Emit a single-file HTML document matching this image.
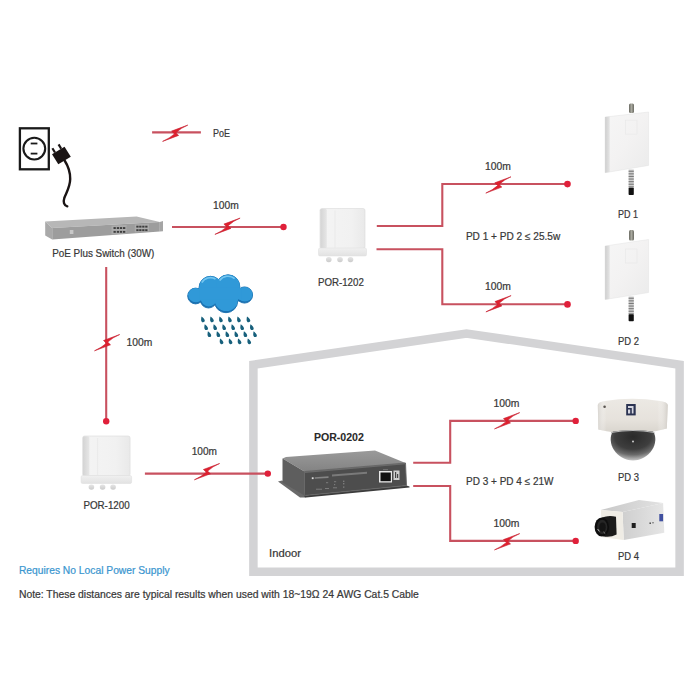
<!DOCTYPE html>
<html><head><meta charset="utf-8">
<style>
html,body{margin:0;padding:0;background:#fff;}
svg{display:block;}
text{font-family:"Liberation Sans",sans-serif;font-size:10.6px;fill:#383838;stroke:#383838;stroke-width:0.22px;}
</style></head>
<body>
<svg width="700" height="700" viewBox="0 0 700 700">
<defs>
<path id="bolt" d="M-12.6,7.8 L3.4,1.8 L0.6,-0.9 Q5.6,-5.6 12.6,-8.5 L-3.6,-2.5 L-0.7,0.3 Q-5.5,4.6 -12.6,7.8 Z" fill="#e0202e" stroke="#c41c2e" stroke-width="0.6" stroke-linejoin="round"/>
<path id="drop" d="M0,0 C1.2,1 3.3,2.6 3.3,4.1 C3.3,5.3 2.4,5.9 1.4,5.8 C0.3,5.7 -0.4,4.6 -0.4,3.4 C-0.4,2.2 -0.2,1 0,0Z" fill="#17607c"/>
</defs>

<!-- House outline -->
<polygon points="253.4,364.7 466.5,333.5 679.6,364.7 679.6,571.7 253.4,571.7" fill="none" stroke="#d3d3d5" stroke-width="8.5" stroke-linejoin="miter"/>

<!-- Outlet -->
<rect x="19.9" y="128.3" width="28.9" height="41" fill="none" stroke="#1a1a1a" stroke-width="2.3"/>
<circle cx="34.3" cy="148.6" r="10.9" fill="none" stroke="#1a1a1a" stroke-width="2.1"/>
<line x1="30.7" y1="143.5" x2="37.4" y2="143.5" stroke="#1a1a1a" stroke-width="1.8"/>
<line x1="30.7" y1="153.6" x2="37.4" y2="153.6" stroke="#1a1a1a" stroke-width="1.8"/>
<!-- Plug -->
<polygon points="52,154.2 64.5,146.7 70.8,156.8 58.3,164.3" fill="#1a1414"/>
<line x1="55" y1="152.5" x2="52.4" y2="148.2" stroke="#1a1414" stroke-width="2.2"/>
<line x1="61.2" y1="148.8" x2="58.6" y2="144.4" stroke="#1a1414" stroke-width="2.2"/>
<path d="M64.6,160.5 C67.8,165.5 70.3,171.5 70.2,179 C70.1,187 66.2,192.8 64.3,198 C63,202 64,205.4 67.3,206.3" fill="none" stroke="#1a1414" stroke-width="2.4" stroke-linecap="round"/>

<!-- Switch -->
<g>
<polygon points="45.2,221.5 136.6,216.4 159.8,221.9 52.2,228" fill="#b7b7b7"/>
<polygon points="52.2,228 159.8,221.9 159.8,231.6 52.2,239.6" fill="#9d9d9d"/>
<polygon points="45.2,221.5 52.2,228 52.2,239.6 45.2,235.5" fill="#a9a9a9"/>
<polygon points="159.8,221.9 163,221 163,231.3 159.8,231.6" fill="#a5a5a5"/>
<polygon points="111.5,225.8 126.5,225 126.5,233.6 111.5,234.6" fill="#acacac"/>
<polygon points="134.8,224.5 149,223.7 149,231.6 134.8,232.4" fill="#acacac"/>
<rect x="69.8" y="230" width="3.6" height="4" fill="#c8c8c8"/>
<g fill="#3d3d3d"><rect x="113.5" y="227.1" width="2.3" height="1.9"/><rect x="113.5" y="230.9" width="2.3" height="1.9"/><rect x="116.8" y="227.1" width="2.3" height="1.9"/><rect x="116.8" y="230.9" width="2.3" height="1.9"/><rect x="119.9" y="227.1" width="2.3" height="1.9"/><rect x="119.9" y="230.9" width="2.3" height="1.9"/><rect x="123.0" y="227.1" width="2.3" height="1.9"/><rect x="123.0" y="230.9" width="2.3" height="1.9"/><rect x="136.3" y="225.7" width="2.3" height="1.9"/><rect x="136.3" y="229.2" width="2.3" height="1.9"/><rect x="139.2" y="225.7" width="2.3" height="1.9"/><rect x="139.2" y="229.2" width="2.3" height="1.9"/><rect x="142.2" y="225.7" width="2.3" height="1.9"/><rect x="142.2" y="229.2" width="2.3" height="1.9"/><rect x="145.2" y="225.7" width="2.3" height="1.9"/><rect x="145.2" y="229.2" width="2.3" height="1.9"/></g>
</g>

<!-- Red lines -->
<g stroke="#c8515f" stroke-width="2.1" fill="none">
<line x1="152.1" y1="132.4" x2="200.9" y2="132.4"/>
<line x1="172" y1="227" x2="283.5" y2="227"/>
<line x1="106.2" y1="267" x2="106.2" y2="421.2"/>
<polyline points="376.8,226 442.3,226 442.3,184 567.4,184"/>
<polyline points="376.5,249.2 442.3,249.2 442.3,304.3 567.4,304.3"/>
<line x1="144.9" y1="473.6" x2="267.8" y2="473.6"/>
<polyline points="413.2,462.7 450.2,462.7 450.2,420.9 575.7,420.9"/>
<polyline points="413.2,486 450.2,486 450.2,540.9 575.7,540.9"/>
</g>
<g fill="#e0203a">
<circle cx="283.5" cy="227" r="3.2"/>
<circle cx="567.5" cy="184.1" r="3.3"/>
<circle cx="567.5" cy="304.4" r="3.3"/>
<circle cx="106.2" cy="421.2" r="3.2"/>
<circle cx="267.8" cy="473.6" r="3.2"/>
<circle cx="575.7" cy="420.9" r="3.2"/>
<circle cx="575.7" cy="540.9" r="3.2"/>
</g>
<use href="#bolt" x="175.2" y="133.6"/>
<use href="#bolt" x="227.5" y="226.6"/>
<use href="#bolt" x="107.1" y="343"/>
<use href="#bolt" x="498.4" y="185.3"/>
<use href="#bolt" x="498.5" y="304.1"/>
<use href="#bolt" x="207" y="472"/>
<use href="#bolt" x="507.1" y="421.1"/>
<use href="#bolt" x="507.1" y="542.1"/>

<defs>
<linearGradient id="boxg" x1="0" y1="0" x2="1" y2="0"><stop offset="0" stop-color="#f4f4f4"/><stop offset="0.7" stop-color="#f1f1f1"/><stop offset="1" stop-color="#e9e9e9"/></linearGradient>
<linearGradient id="boxs" x1="0" y1="0" x2="1" y2="0"><stop offset="0" stop-color="#d4d4d4"/><stop offset="1" stop-color="#e6e6e6"/></linearGradient>
<linearGradient id="boxf" x1="0" y1="0" x2="0" y2="1"><stop offset="0" stop-color="#f0f0f0"/><stop offset="1" stop-color="#e2e2e2"/></linearGradient>
<linearGradient id="gland" x1="0" y1="0" x2="0" y2="1"><stop offset="0" stop-color="#e6e6e6"/><stop offset="1" stop-color="#cbcbcb"/></linearGradient>
</defs>
<!-- POR-1202 box -->
<g>
<rect x="320.0" y="208.5" width="45.0" height="40.0" rx="2" fill="url(#boxg)" stroke="#dadada" stroke-width="0.6"/>
<rect x="320.3" y="208.8" width="6.5" height="39.4" rx="1.5" fill="url(#boxs)"/>
<line x1="335.0" y1="210.5" x2="335.0" y2="247.5" stroke="#e4e4e4" stroke-width="0.6"/>
<rect x="318.5" y="248.0" width="48.0" height="8" rx="1.5" fill="url(#boxf)" stroke="#dcdcdc" stroke-width="0.5"/>
<g fill="url(#gland)">
<rect x="326.0" y="257.0" width="5.6" height="5.2" rx="2.6"/>
<rect x="337.2" y="257.0" width="5.6" height="5.2" rx="2.6"/>
<rect x="347.7" y="257.0" width="5.6" height="5.2" rx="2.6"/>
</g>
</g>
<!-- POR-1200 box -->
<g>
<rect x="82.6" y="436.0" width="47.5" height="40.0" rx="2" fill="url(#boxg)" stroke="#dadada" stroke-width="0.6"/>
<rect x="82.9" y="436.3" width="6.5" height="39.4" rx="1.5" fill="url(#boxs)"/>
<line x1="97.6" y1="438.0" x2="97.6" y2="475.0" stroke="#e4e4e4" stroke-width="0.6"/>
<rect x="81.1" y="475.5" width="50.5" height="8" rx="1.5" fill="url(#boxf)" stroke="#dcdcdc" stroke-width="0.5"/>
<g fill="url(#gland)">
<rect x="88.6" y="484.5" width="5.6" height="5.2" rx="2.6"/>
<rect x="99.8" y="484.5" width="5.6" height="5.2" rx="2.6"/>
<rect x="110.3" y="484.5" width="5.6" height="5.2" rx="2.6"/>
</g>
</g>
<!-- PD1 -->
<defs>
<linearGradient id="pdg" x1="0" y1="0" x2="1" y2="1"><stop offset="0" stop-color="#f6f6f6"/><stop offset="0.5" stop-color="#f3f2f2"/><stop offset="1" stop-color="#ebebeb"/></linearGradient>
<linearGradient id="pds" x1="0" y1="0" x2="1" y2="0"><stop offset="0" stop-color="#cfcfcf"/><stop offset="1" stop-color="#e4e4e4"/></linearGradient>
<linearGradient id="antg" x1="0" y1="0" x2="1" y2="0"><stop offset="0" stop-color="#6a6a62"/><stop offset="0.5" stop-color="#a8a89e"/><stop offset="1" stop-color="#6a6a62"/></linearGradient>
</defs>
<g>
<rect x="629" y="103.4" width="5" height="9.6" rx="1.5" fill="url(#antg)"/>
<rect x="628.6" y="169.5" width="5.2" height="18.2" fill="#cfcfcf"/>
<rect x="628.6" y="170.7" width="5.2" height="1.1" fill="#7a7a7a"/><rect x="628.6" y="173.3" width="5.2" height="1.1" fill="#7a7a7a"/><rect x="628.6" y="175.9" width="5.2" height="1.1" fill="#7a7a7a"/><rect x="628.6" y="178.5" width="5.2" height="1.1" fill="#7a7a7a"/><rect x="628.6" y="181.1" width="5.2" height="1.1" fill="#7a7a7a"/><rect x="628.6" y="183.7" width="5.2" height="1.1" fill="#7a7a7a"/><rect x="628.6" y="186.3" width="5.2" height="1.1" fill="#7a7a7a"/>
<rect x="628.6" y="187.7" width="5.2" height="7.3" rx="0.8" fill="#111"/>
<polygon points="605.1,117.1 648.6,112.0 648.6,165.4 605.1,172.7" fill="url(#pdg)" stroke="#e2e2e2" stroke-width="0.5"/>
<polygon points="605.1,117.1 609.7,116.6 609.7,172.1 605.1,172.7" fill="url(#pds)"/>
<rect x="625.5" y="120.1" width="11.5" height="14" fill="none" stroke="#e9e9e9" stroke-width="0.7"/>
</g>
<!-- PD2 -->
<g>
<rect x="629" y="230.0" width="5" height="10.5" rx="1.5" fill="url(#antg)"/>
<rect x="628.6" y="296.5" width="5.2" height="17.7" fill="#cfcfcf"/>
<rect x="628.6" y="297.7" width="5.2" height="1.1" fill="#7a7a7a"/><rect x="628.6" y="300.3" width="5.2" height="1.1" fill="#7a7a7a"/><rect x="628.6" y="302.9" width="5.2" height="1.1" fill="#7a7a7a"/><rect x="628.6" y="305.5" width="5.2" height="1.1" fill="#7a7a7a"/><rect x="628.6" y="308.1" width="5.2" height="1.1" fill="#7a7a7a"/><rect x="628.6" y="310.7" width="5.2" height="1.1" fill="#7a7a7a"/><rect x="628.6" y="313.3" width="5.2" height="1.1" fill="#7a7a7a"/>
<rect x="628.6" y="314.2" width="5.2" height="7.0" rx="0.8" fill="#111"/>
<polygon points="605.1,246.0 648.6,239.5 648.6,292.5 605.1,299.5" fill="url(#pdg)" stroke="#e2e2e2" stroke-width="0.5"/>
<polygon points="605.1,246.0 609.7,245.5 609.7,298.9 605.1,299.5" fill="url(#pds)"/>
<rect x="625.5" y="249.0" width="11.5" height="14" fill="none" stroke="#e9e9e9" stroke-width="0.7"/>
</g>

<!-- Cloud -->
<defs>
<clipPath id="cloudclip"><circle cx="195.6" cy="296" r="7.9"/>
<circle cx="210.5" cy="287.8" r="11.5"/>
<circle cx="228" cy="286.6" r="11.8"/>
<circle cx="244.5" cy="295" r="8.1"/>
<circle cx="226" cy="301" r="11.7"/>
<circle cx="208.5" cy="299.8" r="8.2"/>
<rect x="199" y="289" width="42" height="12"/></clipPath>
</defs>
<g fill="#1a70b0" stroke="#1a70b0" stroke-width="0.9"><circle cx="195.6" cy="296" r="7.9"/>
<circle cx="210.5" cy="287.8" r="11.5"/>
<circle cx="228" cy="286.6" r="11.8"/>
<circle cx="244.5" cy="295" r="8.1"/>
<circle cx="226" cy="301" r="11.7"/>
<circle cx="208.5" cy="299.8" r="8.2"/>
<rect x="199" y="289" width="42" height="12"/></g>
<g clip-path="url(#cloudclip)">
<g fill="#3099d8" transform="translate(0.3,-1.6)"><circle cx="195.6" cy="296" r="7.9"/>
<circle cx="210.5" cy="287.8" r="11.5"/>
<circle cx="228" cy="286.6" r="11.8"/>
<circle cx="244.5" cy="295" r="8.1"/>
<circle cx="226" cy="301" r="11.7"/>
<circle cx="208.5" cy="299.8" r="8.2"/>
<rect x="199" y="289" width="42" height="12"/></g>
<path d="M201.8,282.6 A10 10 0 0 1 215.5,279" stroke="#74c6f0" stroke-width="1.6" fill="none"/>
<path d="M219.6,280.5 A10.3 10.3 0 0 1 234.6,278.6" stroke="#74c6f0" stroke-width="1.6" fill="none"/>
</g>
<!-- Rain -->
<g>
<use href="#drop" x="201.5" y="316.5"/><use href="#drop" x="210.5" y="316.5"/><use href="#drop" x="219.5" y="316.5"/><use href="#drop" x="228.5" y="316.5"/><use href="#drop" x="237.5" y="316.5"/><use href="#drop" x="247" y="316.5"/>
<use href="#drop" x="204.7" y="324.3"/><use href="#drop" x="213.7" y="324.3"/><use href="#drop" x="222.7" y="324.3"/><use href="#drop" x="231.7" y="324.3"/><use href="#drop" x="240.7" y="324.3"/><use href="#drop" x="250.4" y="324.3"/>
<use href="#drop" x="207.9" y="331.3"/><use href="#drop" x="216.9" y="331.3"/><use href="#drop" x="225.9" y="331.3"/><use href="#drop" x="234.9" y="331.3"/><use href="#drop" x="243.9" y="331.3"/><use href="#drop" x="253.6" y="331.3"/>
<use href="#drop" x="220.1" y="338.4"/><use href="#drop" x="229.1" y="338.4"/><use href="#drop" x="238.1" y="338.4"/><use href="#drop" x="247.8" y="338.4"/>
</g>

<!-- POR-0202 device -->
<defs>
<linearGradient id="topg" x1="0" y1="0" x2="0" y2="1"><stop offset="0" stop-color="#9a9a9a"/><stop offset="1" stop-color="#838383"/></linearGradient>
</defs>
<g>
<polygon points="278,481.5 282,480.5 306,493.5 306,497.5 300,497.5" fill="#6a6a6a"/>
<polygon points="282.5,458.5 286,457 375,450.5 405.5,463 304.5,471.5" fill="url(#topg)"/>
<polygon points="282.5,458.5 304.5,471.5 304.5,495.5 282.5,482.5" fill="#5e5e5e"/>
<polygon points="304.5,471.5 405.5,463 406.5,485.5 304.5,495.5" fill="#4d4d4d"/>
<polygon points="304.5,471.5 405.5,463 405.5,464.3 304.5,473" fill="#6c6c6c"/>
<polygon points="304.5,495.5 406.5,485.5 409.5,486.5 409.5,487.5 306,497.5 304.5,497" fill="#3c3c3c"/>
<rect x="379" y="471" width="13" height="11.5" fill="#e8e8e8"/>
<rect x="380.5" y="472.5" width="10.3" height="8.7" fill="#111"/>
<rect x="393.5" y="470.5" width="6" height="9.5" fill="#cfcfcf"/>
<rect x="395" y="472" width="1.2" height="6" fill="#444"/>
<rect x="397" y="474" width="1.2" height="4" fill="#444"/>
<polygon points="304.5,471.5 405.5,463 406.5,485.5 304.5,495.5" fill="none" stroke="#666" stroke-width="0.9"/>
<rect x="311.8" y="477.3" width="1.8" height="1.8" fill="#e0e0e0"/>
<polygon points="314.8,477.2 328.5,476.3 328.5,477.9 314.8,478.8" fill="#858585"/>
<polygon points="332,474.5 367,471.8 367,473.8 332,476.5" fill="#7a7a7a"/>
<g fill="#7c7c7c">
<rect x="326" y="482.2" width="2.2" height="1"/><rect x="334" y="481.2" width="2.2" height="1"/><rect x="343" y="480.6" width="1.4" height="1.4"/>
<rect x="334" y="484" width="1.2" height="1.2"/><rect x="343" y="483" width="1.4" height="1.4"/>
<rect x="316" y="488.7" width="6" height="1"/><rect x="325" y="488" width="4" height="1"/><rect x="333" y="487.3" width="4" height="1"/><rect x="343" y="486.4" width="1.4" height="1.4"/>
<rect x="383" y="469.3" width="5" height="0.8"/>
</g>
</g>
<!-- PD3 dome camera -->
<defs>
<radialGradient id="domeg" cx="0.5" cy="0.22" r="0.82"><stop offset="0" stop-color="#2a2a2a"/><stop offset="0.5" stop-color="#3e3e3e"/><stop offset="0.72" stop-color="#6a6a6a"/><stop offset="0.88" stop-color="#aaa"/><stop offset="1" stop-color="#d6d6d6"/></radialGradient>
<linearGradient id="bodyg" x1="0" y1="0" x2="0" y2="1"><stop offset="0" stop-color="#ece9e4"/><stop offset="0.6" stop-color="#e6e2dc"/><stop offset="1" stop-color="#d8d4cd"/></linearGradient>
<linearGradient id="bodyh" x1="0" y1="0" x2="1" y2="0"><stop offset="0" stop-color="#d6d3ce" stop-opacity="0.9"/><stop offset="0.12" stop-color="#fff" stop-opacity="0"/><stop offset="0.85" stop-color="#fff" stop-opacity="0"/><stop offset="1" stop-color="#cfcbc5" stop-opacity="0.9"/></linearGradient>
</defs>
<g>
<path d="M597.8,405 Q598,402 605,401 Q632,396.5 660,401 Q667.5,402 667.8,405 L666.8,428.5 Q633,438 598.4,429.5 Z" fill="url(#bodyg)"/>
<path d="M597.8,405 Q598,402 605,401 Q632,396.5 660,401 Q667.5,402 667.8,405 L666.8,428.5 Q633,438 598.4,429.5 Z" fill="url(#bodyh)"/>
<path d="M613,431.5 C609.5,436 610,444 614,450 C618,456 625,460.5 633,460.5 C641,460.5 648,456 652,450 C656,444 656.5,436 653,431.5 Q633,428.5 613,431.5 Z" fill="url(#domeg)"/>
<path d="M611,432.5 Q633,428.5 654.5,432.5" stroke="#b8b8b8" stroke-width="1.2" fill="none"/>
<circle cx="633" cy="441.5" r="0.9" fill="#ddd"/>
<rect x="626.2" y="404" width="9.5" height="11.4" fill="#2b3352"/>
<path d="M628,406 L633.5,406 L633.5,413.5 L631.8,413.5 L631.8,408 L628,408 Z" fill="#e8e8f0" opacity="0.9"/>
<path d="M628,409.5 L630.2,409.5 L630.2,413.5 L628,413.5 Z" fill="#e8e8f0" opacity="0.9"/>
<circle cx="604.6" cy="406.8" r="1.3" fill="#5a5550"/>
</g>
<!-- PD4 box camera -->
<defs>
<linearGradient id="sideg" x1="0" y1="0" x2="1" y2="0"><stop offset="0" stop-color="#cfcfcf"/><stop offset="0.5" stop-color="#dadada"/><stop offset="1" stop-color="#e6e6e6"/></linearGradient>
<linearGradient id="topg2" x1="0" y1="0" x2="1" y2="0"><stop offset="0" stop-color="#c8c8c8"/><stop offset="1" stop-color="#e2e2e2"/></linearGradient>
</defs>
<g>
<polygon points="600.9,509.9 639,500.1 663.1,503 622.6,512.1" fill="url(#topg2)"/>
<polygon points="622.6,512.1 663.1,503 664.3,532.7 623.7,540.1" fill="url(#sideg)"/>
<polygon points="600.9,509.9 622.6,512.1 623.7,540.1 602,537.3" fill="#efece5"/>
<path d="M602,517.5 Q609,514.8 616,516.8 L616.6,534.5 Q610,538 603,536.3 Z" fill="#1a1a1a"/>
<ellipse cx="601.8" cy="527" rx="7.2" ry="9.6" fill="#0e0e0e"/>
<ellipse cx="602.2" cy="527" rx="5.2" ry="7.2" fill="#262626"/>
<ellipse cx="602.5" cy="527.2" rx="3.2" ry="4.6" fill="#141414"/>
<path d="M597.6,529 L599.4,531.4" stroke="#c8c8c8" stroke-width="0.9"/>
<path d="M603.5,532 L605.2,533.6" stroke="#a0a0a0" stroke-width="0.8"/>
<rect x="631.7" y="523" width="4" height="5" fill="#1e1e1e"/>
<rect x="649.5" y="522.5" width="1.4" height="1.4" fill="#333"/>
<rect x="652" y="522.3" width="2" height="1" fill="#777"/>
<rect x="659.3" y="514" width="3.8" height="7.3" fill="#4050a0"/>
</g>
<!-- Texts -->
<text x="212.9" y="136.9" textLength="17" lengthAdjust="spacingAndGlyphs">PoE</text>
<text x="213" y="208.8" textLength="25.7" lengthAdjust="spacingAndGlyphs">100m</text>
<text x="52.2" y="256.7" textLength="102.2" lengthAdjust="spacingAndGlyphs">PoE Plus Switch (30W)</text>
<text x="318" y="285.8" textLength="45.8" lengthAdjust="spacingAndGlyphs">POR-1202</text>
<text x="485" y="169.5" textLength="25.8" lengthAdjust="spacingAndGlyphs">100m</text>
<text x="465.9" y="240.2" textLength="94.3" lengthAdjust="spacingAndGlyphs">PD 1 + PD 2 ≤ 25.5w</text>
<text x="485" y="289.5" textLength="25.8" lengthAdjust="spacingAndGlyphs">100m</text>
<text x="618" y="217.8" textLength="20" lengthAdjust="spacingAndGlyphs">PD 1</text>
<text x="618" y="344.8" textLength="21" lengthAdjust="spacingAndGlyphs">PD 2</text>
<text x="126.6" y="345.6" textLength="25.7" lengthAdjust="spacingAndGlyphs">100m</text>
<text x="83.4" y="509" textLength="46.3" lengthAdjust="spacingAndGlyphs">POR-1200</text>
<text x="191.7" y="455.2" textLength="25.2" lengthAdjust="spacingAndGlyphs">100m</text>
<text x="313.9" y="440.6" textLength="49.9" lengthAdjust="spacingAndGlyphs" style="font-weight:bold;font-size:11.8px;fill:#2a2a2a;stroke:#2a2a2a;stroke-width:0.1px">POR-0202</text>
<text x="493.5" y="406.5" textLength="25.9" lengthAdjust="spacingAndGlyphs">100m</text>
<text x="466.1" y="484.8" textLength="87.4" lengthAdjust="spacingAndGlyphs">PD 3 + PD 4 ≤ 21W</text>
<text x="493.5" y="526.6" textLength="25.9" lengthAdjust="spacingAndGlyphs">100m</text>
<text x="618" y="480.9" textLength="21" lengthAdjust="spacingAndGlyphs">PD 3</text>
<text x="618" y="559.8" textLength="21" lengthAdjust="spacingAndGlyphs">PD 4</text>
<text x="269.1" y="556.7" textLength="31.8" lengthAdjust="spacingAndGlyphs">Indoor</text>
<text x="18.9" y="574.4" textLength="150.8" lengthAdjust="spacingAndGlyphs" style="fill:#3a96cf;stroke:#3a96cf">Requires No Local Power Supply</text>
<text x="18.9" y="597.7" textLength="400" lengthAdjust="spacingAndGlyphs">Note: These distances are typical results when used with 18~19Ω 24 AWG Cat.5 Cable</text>
</svg>
</body></html>
